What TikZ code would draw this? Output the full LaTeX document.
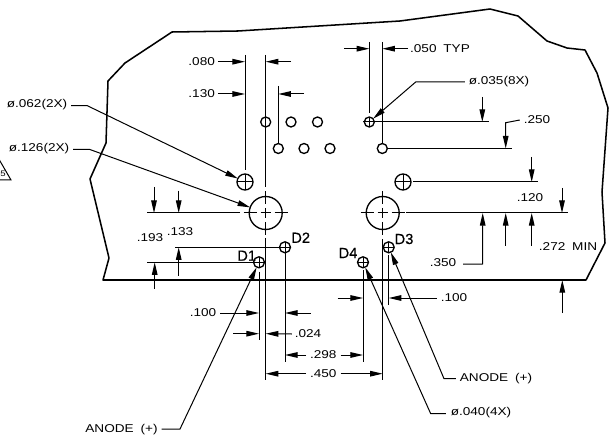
\documentclass[tikz,border=0pt]{standalone}
\usepackage{fontspec}
\setmainfont{Liberation Sans}
\newfontfamily\dimfont[FakeStretch=1.2]{Liberation Sans}
\newfontfamily\diodefont[FakeBold=0.4]{Liberation Sans}
\usetikzlibrary{arrows.meta}
\tikzset{
  thin line/.style={line width=0.75pt,black},
  outline/.style={line width=1.15pt,line join=round},
  dimtip/.style={thin line,-{Triangle[length=9.5pt,width=4.2pt]}},
  dimtext/.style={font=\dimfont\fontsize{8.5}{10}\selectfont,inner sep=0pt,outer sep=0pt},
  diodetext/.style={font=\diodefont\fontsize{11}{12}\selectfont,inner sep=0pt},
  hole/.style={circle,draw,line width=1pt,inner sep=0pt,outer sep=0pt,minimum size=#1*0.75pt},
  dashcross/.style={line width=0.75pt},
}
\begin{document}
\begin{tikzpicture}[x=0.75pt,y=-0.75pt]
\useasboundingbox (0,0) rectangle (613,441);

% part outline
\draw[outline] (103,280) -- (109,258) -- (90,179) -- (106,143) -- (108,81) -- (125,63) -- (172,32)
  -- (238,31) -- (400,21) -- (490,9) -- (518,16) -- (547,41) -- (567,48) -- (585,50) -- (597,73)
  -- (608,108) -- (602,192) -- (605,243) -- (586,280) -- cycle;

% holes
\foreach \n/\x/\y in {a1/265.7/122,a2/291/122,a3/317.5/122,a4/369.3/122,b1/278.3/148.5,b2/304/148.5,b3/330/148.5,b4/382.3/148.5}
  \node[hole=10] (\n) at (\x,\y) {};
\node[hole=16] (m1) at (245,182) {};
\node[hole=16] (m2) at (403,182) {};
\node[hole=33] (L1) at (265.7,213) {};
\node[hole=33] (L2) at (382.7,213) {};
\node[hole=11] (d1) at (259,262.3) {};
\node[hole=11] (d2) at (285,247.3) {};
\node[hole=11] (d3) at (388.7,247.3) {};
\node[hole=11] (d4) at (363,262.3) {};

% crosses in holes
\foreach \n in {m1,m2,d1,d2,d3,d4} {
  \draw[thin line] (\n.west) -- (\n.east);
  \draw[thin line] (\n.north) -- (\n.south);
}
\draw[thin line] (363,122) -- (a4.west) (a4.north) -- (a4.south);
\draw[thin line] (a4.west) -- (a4.east);

% centre marks of the large holes
\foreach \n in {L1,L2} {
  \draw[dashcross] (\n) ++(-22,0) -- ++(13,0) ++(4,0) -- ++(10,0) ++(4,0) -- ++(13,0);
  \draw[dashcross] (\n) ++(0,-22) -- ++(0,13) ++(0,4) -- ++(0,10) ++(0,4) -- ++(0,13);
}

% extension lines (vertical)
\coordinate (t245) at (245,55);
\coordinate (t265) at (265.7,55);
\coordinate (t278) at (278.3,86);
\coordinate (t369) at (369.3,42);
\coordinate (t382) at (382.3,42);
\coordinate (b245) at (245,170);
\coordinate (b265) at (265.7,187);
\coordinate (tl1) at (265.7,238);
\coordinate (bl1) at (265.7,380);
\coordinate (tl2) at (382.7,239);
\coordinate (bl2) at (382.7,380);
\coordinate (ed1b) at (259,340);
\coordinate (ed1t) at (259,271.7);
\coordinate (ed2b) at (285,361.7);
\coordinate (ed4b) at (363,361.7);
\coordinate (ed4t) at (363,270);
\coordinate (ed3b) at (388.7,305);
\coordinate (ed3t) at (388.7,255);
\draw[thin line] (t245) -- (b245);
\draw[thin line] (t265) -- (b265);
\draw[thin line] (t278) -- (b1.north);
\draw[thin line] (t369) -- (369.3,113);
\draw[thin line] (t382) -- (b4.north);
\draw[thin line] (tl1) -- (bl1);
\draw[thin line] (tl2) -- (bl2);
\draw[thin line] (ed1t) -- (ed1b);
\draw[thin line] (d2.south) -- (ed2b);
\draw[thin line] (ed4t) -- (ed4b);
\draw[thin line] (ed3t) -- (ed3b);

% extension lines (horizontal)
\coordinate (ra4) at (489,122);
\coordinate (rb4) at (512,148.5);
\coordinate (rm2) at (538,182);
\coordinate (rL2) at (568,213);
\coordinate (lL1) at (147,213);
\coordinate (ll2) at (175,247.3);
\coordinate (ll1) at (147,262.3);
\draw[thin line] (a4.east) -- (ra4);
\draw[thin line] (388,148.5) -- (rb4);
\draw[thin line] (m2.east) ++(2,0) -- (rm2);
\draw[thin line] (406,213) -- (rL2);
\draw[thin line] (240,213) -- (lL1);
\draw[thin line] (d2.west) ++(-1,0) -- (ll2);
\draw[thin line] (d1.west) -- (ll1);

% baseline
\draw[outline] (103,280) -- (586,280);

% dimension texts
\node[dimtext] (t080) at (201.7,61.7) {.080};
\node[dimtext] (t130) at (201.7,94) {.130};
\node[dimtext] (t050) at (440,48.7) {.050\hspace{0.6em}TYP};
\node[dimtext] (t035) at (499,82) {ø.035(8X)};
\node[dimtext] (t062) at (37,105) {ø.062(2X)};
\node[dimtext] (t126) at (39,149) {ø.126(2X)};
\node[dimtext] (t250) at (537,120) {.250};
\node[dimtext] (t120) at (530,198) {.120};
\node[dimtext] (t350) at (443,262.7) {.350};
\node[dimtext] (t272) at (568,246.7) {.272\hspace{0.6em}MIN};
\node[dimtext] (t133) at (180,231.7) {.133};
\node[dimtext] (t193) at (150,237.7) {.193};
\node[dimtext] (t100a) at (203,313) {.100};
\node[dimtext] (t100b) at (454,298) {.100};
\node[dimtext] (t024) at (308,334) {.024};
\node[dimtext] (t298) at (323.3,355) {.298};
\node[dimtext] (t450) at (323.3,373.7) {.450};
\node[dimtext] (tan1) at (121.5,430) {ANODE\hspace{0.6em}(+)};
\node[dimtext] (tan2) at (496,378.7) {ANODE\hspace{0.6em}(+)};
\node[dimtext] (t040) at (481,413) {ø.040(4X)};

\node[diodetext] (D1) at (246.7,255.7) {D1};
\node[diodetext] (D2) at (300.7,237.7) {D2};
\node[diodetext] (D3) at (404,239) {D3};
\node[diodetext] (D4) at (348,253) {D4};

% dimension arrows, top
\draw[dimtip] (t080.east) ++(3,0) -- (245,61.7);
\draw[dimtip] (291,61.7) -- (265.7,61.7);
\draw[dimtip] (t130.east) ++(3,0) -- (245,94);
\draw[dimtip] (304,94) -- (278.3,94);
\draw[dimtip] (344,48.7) -- (369.3,48.7);
\draw[dimtip] (408,48.7) -- (382.3,48.7);

% right side
\draw[dimtip] (482.3,97) -- (482.3,122);
\draw[dimtip] (t250.west) ++(-4,0) -- (505.7,122.7) -- (505.7,148.5);
\draw[dimtip] (531.7,157) -- (531.7,182);
\draw[dimtip] (562,188) -- (562,213);
\draw[dimtip] (t350.east) ++(7,1.5) -- (482.7,264) -- (482.7,213);
\draw[dimtip] (505.7,246) -- (505.7,213);
\draw[dimtip] (531.7,246) -- (531.7,213);
\draw[dimtip] (562.3,313) -- (562.3,280);

% left side
\draw[dimtip] (154,187) -- (154,213);
\draw[dimtip] (178.7,190.7) -- (178.7,213);
\draw[dimtip] (178.7,275.7) -- (178.7,247.3);
\draw[dimtip] (154.7,289) -- (154.7,262.3);

% bottom
\draw[dimtip] (t100a.east) ++(4,0) -- (259,313);
\draw[dimtip] (310.7,313) -- (285,313);
\draw[dimtip] (233,333.7) -- (259,333.7);
\draw[dimtip] (t024.west) ++(-3,0) -- (265.7,333.7);
\draw[dimtip] (t298.west) ++(-4,0) -- (285,355);
\draw[dimtip] (t298.east) ++(4,0) -- (363,355);
\draw[dimtip] (t450.west) ++(-4,0) -- (265.7,373.7);
\draw[dimtip] (t450.east) ++(4,0) -- (382.7,373.7);
\draw[dimtip] (337.7,298) -- (363,298);
\draw[dimtip] (t100b.west) ++(-4,0) -- (388.7,298);

% leaders
\coordinate (k062) at (87.3,105.7);
\coordinate (k126) at (89.3,149.3);
\coordinate (k035) at (415.7,82);
\coordinate (kan1) at (180,429);
\coordinate (kan2) at (444,378.7);
\coordinate (k040) at (430.7,413.7);
\draw[dimtip] (t062.east) ++(4,0.7) -- (k062) -- (m1);
\draw[dimtip] (t126.east) ++(4,0.3) -- (k126) -- (L1);
\draw[dimtip] (t035.west) ++(-4,0) -- (k035) -- (a4);
\draw[dimtip] (tan1.east) ++(4,-1) -- (kan1) -- (d1);
\draw[dimtip] (tan2.west) ++(-4,0) -- (kan2) -- (d3);
\draw[dimtip] (t040.west) ++(-5,0.7) -- (k040) -- (d4);

% datum triangle, cut by the edge of the sheet
\draw[thin line] (0,161) -- (11,180) -- (-11,180) -- cycle;
\node[dimtext,font=\dimfont\fontsize{6}{8}\selectfont] (t5) at (3,174) {5};
\end{tikzpicture}
\end{document}
